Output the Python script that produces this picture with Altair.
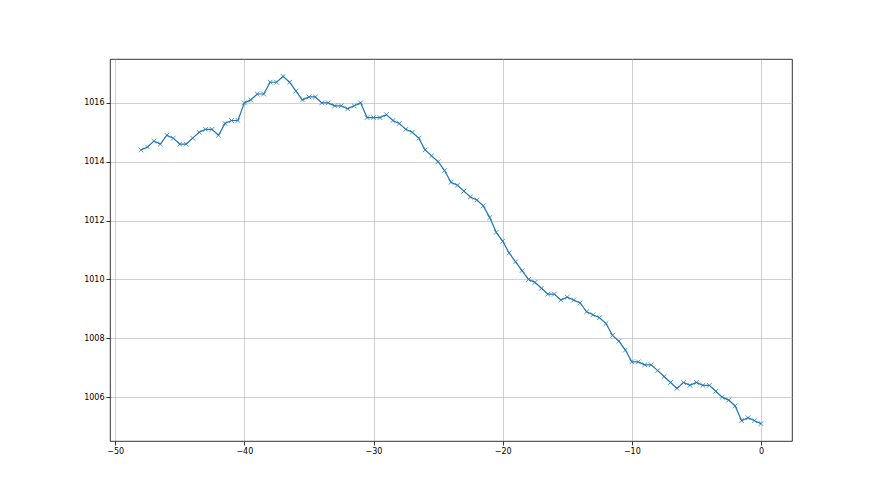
import altair as alt
import pandas as pd

# sample offsets (x) and pressure readings (y)
x_vals = [i * 0.5 - 48 for i in range(97)]
pressure = [
    1014.4, 1014.5, 1014.7, 1014.6, 1014.9, 1014.8, 1014.6, 1014.6, 1014.8, 1015.0,
    1015.1, 1015.1, 1014.9, 1015.3, 1015.4, 1015.4, 1016.0, 1016.1, 1016.3, 1016.3,
    1016.7,
    1016.7, 1016.9, 1016.7, 1016.4, 1016.1, 1016.2, 1016.2, 1016.0, 1016.0, 1015.9,
    1015.9, 1015.8, 1015.9, 1016.0, 1015.5, 1015.5, 1015.5, 1015.6, 1015.4, 1015.3,
    1015.1, 1015.0, 1014.8, 1014.4, 1014.2, 1014.0, 1013.7, 1013.3, 1013.2, 1013.0,
    1012.8, 1012.7, 1012.5, 1012.1, 1011.6, 1011.3, 1010.9, 1010.6, 1010.3, 1010.0,
    1009.9, 1009.7, 1009.5, 1009.5, 1009.3, 1009.4, 1009.3, 1009.2, 1008.9, 1008.8,
    1008.7, 1008.5, 1008.1, 1007.9, 1007.6, 1007.2, 1007.2, 1007.1, 1007.1, 1006.9,
    1006.7, 1006.5, 1006.3, 1006.5, 1006.4, 1006.5, 1006.4, 1006.4, 1006.2, 1006.0,
    1005.9, 1005.7, 1005.2, 1005.3, 1005.2, 1005.1,
]
x_ticks = [-50, -40, -30, -20, -10, 0]
y_ticks = [1006, 1008, 1010, 1012, 1014, 1016]

df = pd.DataFrame({"x": x_vals, "y": pressure})

xenc = alt.X("x:Q", scale=alt.Scale(domain=[-50.4, 2.4], nice=False, zero=False),
             axis=alt.Axis(values=x_ticks, title=None, format="d"))
yenc = alt.Y("y:Q", scale=alt.Scale(domain=[1004.51, 1017.49], nice=False, zero=False),
             axis=alt.Axis(values=y_ticks, title=None, format="d"))

line = alt.Chart(df).mark_line(color="#1f77b4", strokeWidth=1.2).encode(x=xenc, y=yenc)
pts = alt.Chart(df).mark_point(
    shape="M-1,-1L1,1M-1,1L1,-1", filled=False, color="#1f77b4",
    strokeWidth=0.9, size=22, opacity=0.85
).encode(x=xenc, y=yenc)

chart = alt.layer(line, pts).properties(
    width=682, height=382,
    autosize=alt.AutoSizeParams(type="none"),
    padding={"left": 102, "top": 51, "right": 80, "bottom": 46},
).configure_view(
    stroke="black", strokeWidth=0.8
).configure_axis(
    domain=False,
    grid=True, gridColor="#b0b0b0", gridWidth=0.6,
    ticks=True, tickColor="black", tickSize=4, tickWidth=0.8,
    labelFont="DejaVu Sans", labelFontSize=8, labelColor="black",
    labelPadding=2,
)

chart.save("out.html", embed_options={"renderer": "svg", "actions": False})
